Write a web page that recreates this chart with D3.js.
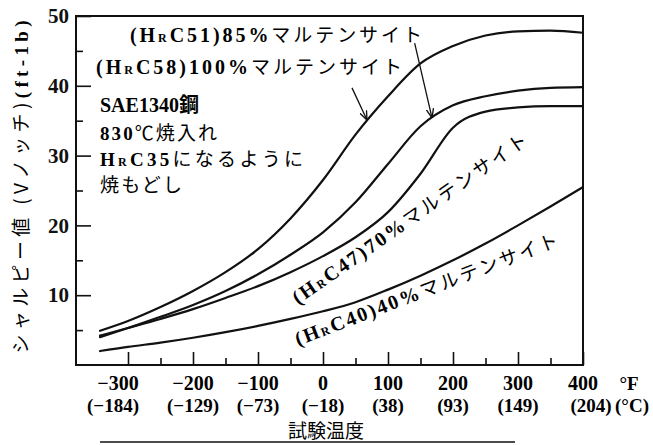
<!DOCTYPE html>
<html>
<head>
<meta charset="utf-8">
<script src="https://cdn.jsdelivr.net/npm/d3@7"></script>
<style>
  body { margin: 0; background: #fff; }
  svg { display: block; }
  .num { font-family: "Liberation Serif", "DejaVu Serif", serif; font-weight: bold; }
  .jp { font-family: "Noto Sans CJK JP", sans-serif; }
</style>
</head>
<body>
<svg id="chart" width="653" height="445"></svg>
<script>
// test temperature (°F) and Charpy V-notch energy (ft-lb)
const tempF = [-343, -300, -250, -200, -150, -100, -50, 0, 50, 100, 150, 200, 250, 300, 350, 400];
const mart100 = [4.9, 6.3, 8.3, 10.6, 13.3, 16.6, 21.0, 26.5, 33.0, 38.5, 43.2, 45.7, 47.2, 47.8, 47.9, 47.6];
const mart85  = [4.0, 5.3, 6.9, 8.6, 10.6, 13.0, 15.8, 19.0, 23.3, 28.8, 34.2, 37.2, 38.5, 39.3, 39.7, 39.8];
const mart70  = [4.2, 5.3, 6.6, 8.0, 9.6, 11.3, 13.3, 15.6, 18.3, 21.9, 27.4, 34.0, 36.3, 36.9, 37.1, 37.1];
const mart40  = [2.0, 2.6, 3.2, 3.9, 4.7, 5.6, 6.6, 7.7, 9.0, 10.8, 12.8, 15.0, 17.4, 20.0, 22.7, 25.5];

const yTicks = [10, 20, 30, 40, 50];
const yMinor = [5, 15, 25, 35, 45];
const xTicksF = [-300, -200, -100, 0, 100, 200, 300, 400];
const xMinor = [-250, -150, -50, 50, 150, 250, 350];
const xLabelsF = ["\u2212300", "\u2212200", "\u2212100", "0", "100", "200", "300", "400"];
const xLabelsC = ["(\u2212184)", "(\u2212129)", "(\u221273)", "(\u221218)", "(38)", "(93)", "(149)", "(204)"];

const svg = d3.select("#chart");

const frame = { left: 76, right: 583, top: 16, bottom: 365 };
const x = d3.scaleLinear().domain([-380, 400]).range([frame.left, frame.right]);
const y = d3.scaleLinear().domain([0, 50]).range([frame.bottom, frame.top]);

// ticks (all pointing into the plot)
const gx = svg.append("g").attr("transform", `translate(0,${frame.bottom})`);
gx.call(d3.axisBottom(x).tickValues(xTicksF).tickSizeInner(-13).tickSizeOuter(0).tickFormat(""));
const gxm = svg.append("g").attr("transform", `translate(0,${frame.bottom})`);
gxm.call(d3.axisBottom(x).tickValues(xMinor).tickSizeInner(-7).tickSizeOuter(0).tickFormat(""));

const gy = svg.append("g").attr("transform", `translate(${frame.left},0)`);
gy.call(d3.axisLeft(y).tickValues(yTicks).tickSizeInner(-15).tickSizeOuter(0).tickPadding(7));
const gym = svg.append("g").attr("transform", `translate(${frame.left},0)`);
gym.call(d3.axisLeft(y).tickValues(yMinor).tickSizeInner(-7).tickSizeOuter(0).tickFormat(""));

svg.selectAll(".domain").remove();
svg.selectAll(".tick line").attr("stroke", "#111").attr("stroke-width", 1.6);
gy.selectAll(".tick text")
  .attr("class", "num")
  .attr("font-size", 21)
  .attr("fill", "#111");

// frame
svg.append("rect")
  .attr("x", frame.left).attr("y", frame.top)
  .attr("width", frame.right - frame.left).attr("height", frame.bottom - frame.top)
  .attr("fill", "none").attr("stroke", "#111").attr("stroke-width", 2);

// x labels: °F row and °C row
svg.append("g").selectAll("text").data(xTicksF).join("text")
  .attr("class", "num")
  .attr("x", (d, i) => x(d) + (i === 0 ? -10 : 0))
  .attr("y", 390)
  .attr("text-anchor", "middle")
  .attr("font-size", 20)
  .text((d, i) => xLabelsF[i]);
svg.append("g").selectAll("text").data(xTicksF).join("text")
  .attr("class", "num")
  .attr("x", (d, i) => x(d) + (i === 0 ? -15 : i === 7 ? 8 : 0))
  .attr("y", 412)
  .attr("text-anchor", "middle")
  .attr("font-size", 19)
  .text((d, i) => xLabelsC[i]);
svg.append("text").attr("class", "num").attr("x", 629).attr("y", 390)
  .attr("text-anchor", "middle").attr("font-size", 19).text("\u00b0F");
svg.append("text").attr("class", "num").attr("x", 632).attr("y", 412)
  .attr("text-anchor", "middle").attr("font-size", 19).text("(\u00b0C)");

svg.append("text").attr("class", "jp").attr("x", 326).attr("y", 438)
  .attr("text-anchor", "middle").attr("font-size", 19).text("試験温度");
svg.append("line").attr("x1", 100).attr("x2", 515).attr("y1", 442).attr("y2", 442)
  .attr("stroke", "#111").attr("stroke-width", 1.5);

// y title
const yt = svg.append("text")
  .attr("class", "jp")
  .attr("transform", "translate(28,187) rotate(-90)")
  .attr("text-anchor", "middle")
  .attr("font-size", 19)
  .attr("textLength", 333)
  .attr("lengthAdjust", "spacing");
yt.append("tspan").text("シャルピー値 (Vノッチ)");
yt.append("tspan").attr("font-weight", "bold").attr("class", "num").text("(ft-1b)");

// curves
const line = d3.line()
  .x((d, i) => x(tempF[i]))
  .y(d => y(d))
  .curve(d3.curveMonotoneX);

[mart100, mart85, mart70, mart40].forEach(s => {
  svg.append("path")
    .datum(s)
    .attr("fill", "none")
    .attr("stroke", "#111")
    .attr("stroke-width", 2.2)
    .attr("stroke-linecap", "round")
    .attr("d", line);
});

// labels with subscript R
function hrcLabel(g, num, pct, size, len) {
  const t = g.append("text").attr("font-size", size)
    .attr("textLength", len).attr("lengthAdjust", "spacing");
  t.append("tspan").attr("class", "num").text("(H");
  t.append("tspan").attr("class", "num").attr("font-size", size * 0.6).text("R");
  t.append("tspan").attr("class", "num").text("C" + num + ")" + pct);
  t.append("tspan").attr("class", "jp").attr("font-size", size * 0.95).text("マルテンサイト");
  return t;
}

hrcLabel(svg.append("g").attr("transform", "translate(130,42)"), "51", "85%", 20, 292);
hrcLabel(svg.append("g").attr("transform", "translate(96,74)"), "58", "100%", 20, 306);
hrcLabel(svg.append("g").attr("transform", "translate(298,305) rotate(-35)"), "47", "70%", 20, 282);
hrcLabel(svg.append("g").attr("transform", "translate(298,346) rotate(-21)"), "40", "40%", 20, 280);

// arrows from labels to curves (tip lands on the curve)
const valueAt = (s, t) => {
  const i = d3.bisectLeft(tempF, t);
  const k = (t - tempF[i - 1]) / (tempF[i] - tempF[i - 1]);
  return s[i - 1] + k * (s[i] - s[i - 1]);
};
const arrows = [
  { from: [141, 46.1], t: 167.7, s: mart85 },
  { from: [44.6, 39.7], t: 67.7, s: mart100 }
];
svg.append("defs").append("marker")
  .attr("id", "head").attr("viewBox", "0 0 10 10").attr("refX", 10).attr("refY", 5)
  .attr("markerWidth", 7).attr("markerHeight", 7).attr("orient", "auto")
  .append("path").attr("d", "M0,1 L10,5 L0,9").attr("fill", "none").attr("stroke", "#111").attr("stroke-width", 1.5);
svg.append("g").selectAll("line").data(arrows).join("line")
  .attr("x1", d => x(d.from[0])).attr("y1", d => y(d.from[1]))
  .attr("x2", d => x(d.t)).attr("y2", d => y(valueAt(d.s, d.t)) - 1)
  .attr("stroke", "#111").attr("stroke-width", 1.3)
  .attr("marker-end", "url(#head)");

// steel description
const desc = svg.append("g").attr("transform", "translate(100,0)");
desc.append("text").attr("y", 112).attr("font-size", 20).attr("font-weight", "bold")
  .call(t => { t.append("tspan").attr("class", "num").text("SAE1340"); t.append("tspan").attr("class", "jp").text("鋼"); });
desc.append("text").attr("y", 140).attr("font-size", 19).attr("textLength", 117).attr("lengthAdjust", "spacing")
  .call(t => { t.append("tspan").attr("class", "num").attr("font-weight", "normal").text("830"); t.append("tspan").attr("class", "jp").text("℃焼入れ"); });
const l3 = desc.append("text").attr("y", 166).attr("font-size", 19).attr("textLength", 203).attr("lengthAdjust", "spacing");
l3.append("tspan").attr("class", "num").attr("font-weight", "normal").text("H");
l3.append("tspan").attr("class", "num").attr("font-size", 12).text("R");
l3.append("tspan").attr("class", "num").attr("font-weight", "normal").text("C35");
l3.append("tspan").attr("class", "jp").text("になるように");
desc.append("text").attr("class", "jp").attr("y", 192).attr("font-size", 19)
  .attr("textLength", 82).attr("lengthAdjust", "spacing").text("焼もどし");
</script>
</body>
</html>
